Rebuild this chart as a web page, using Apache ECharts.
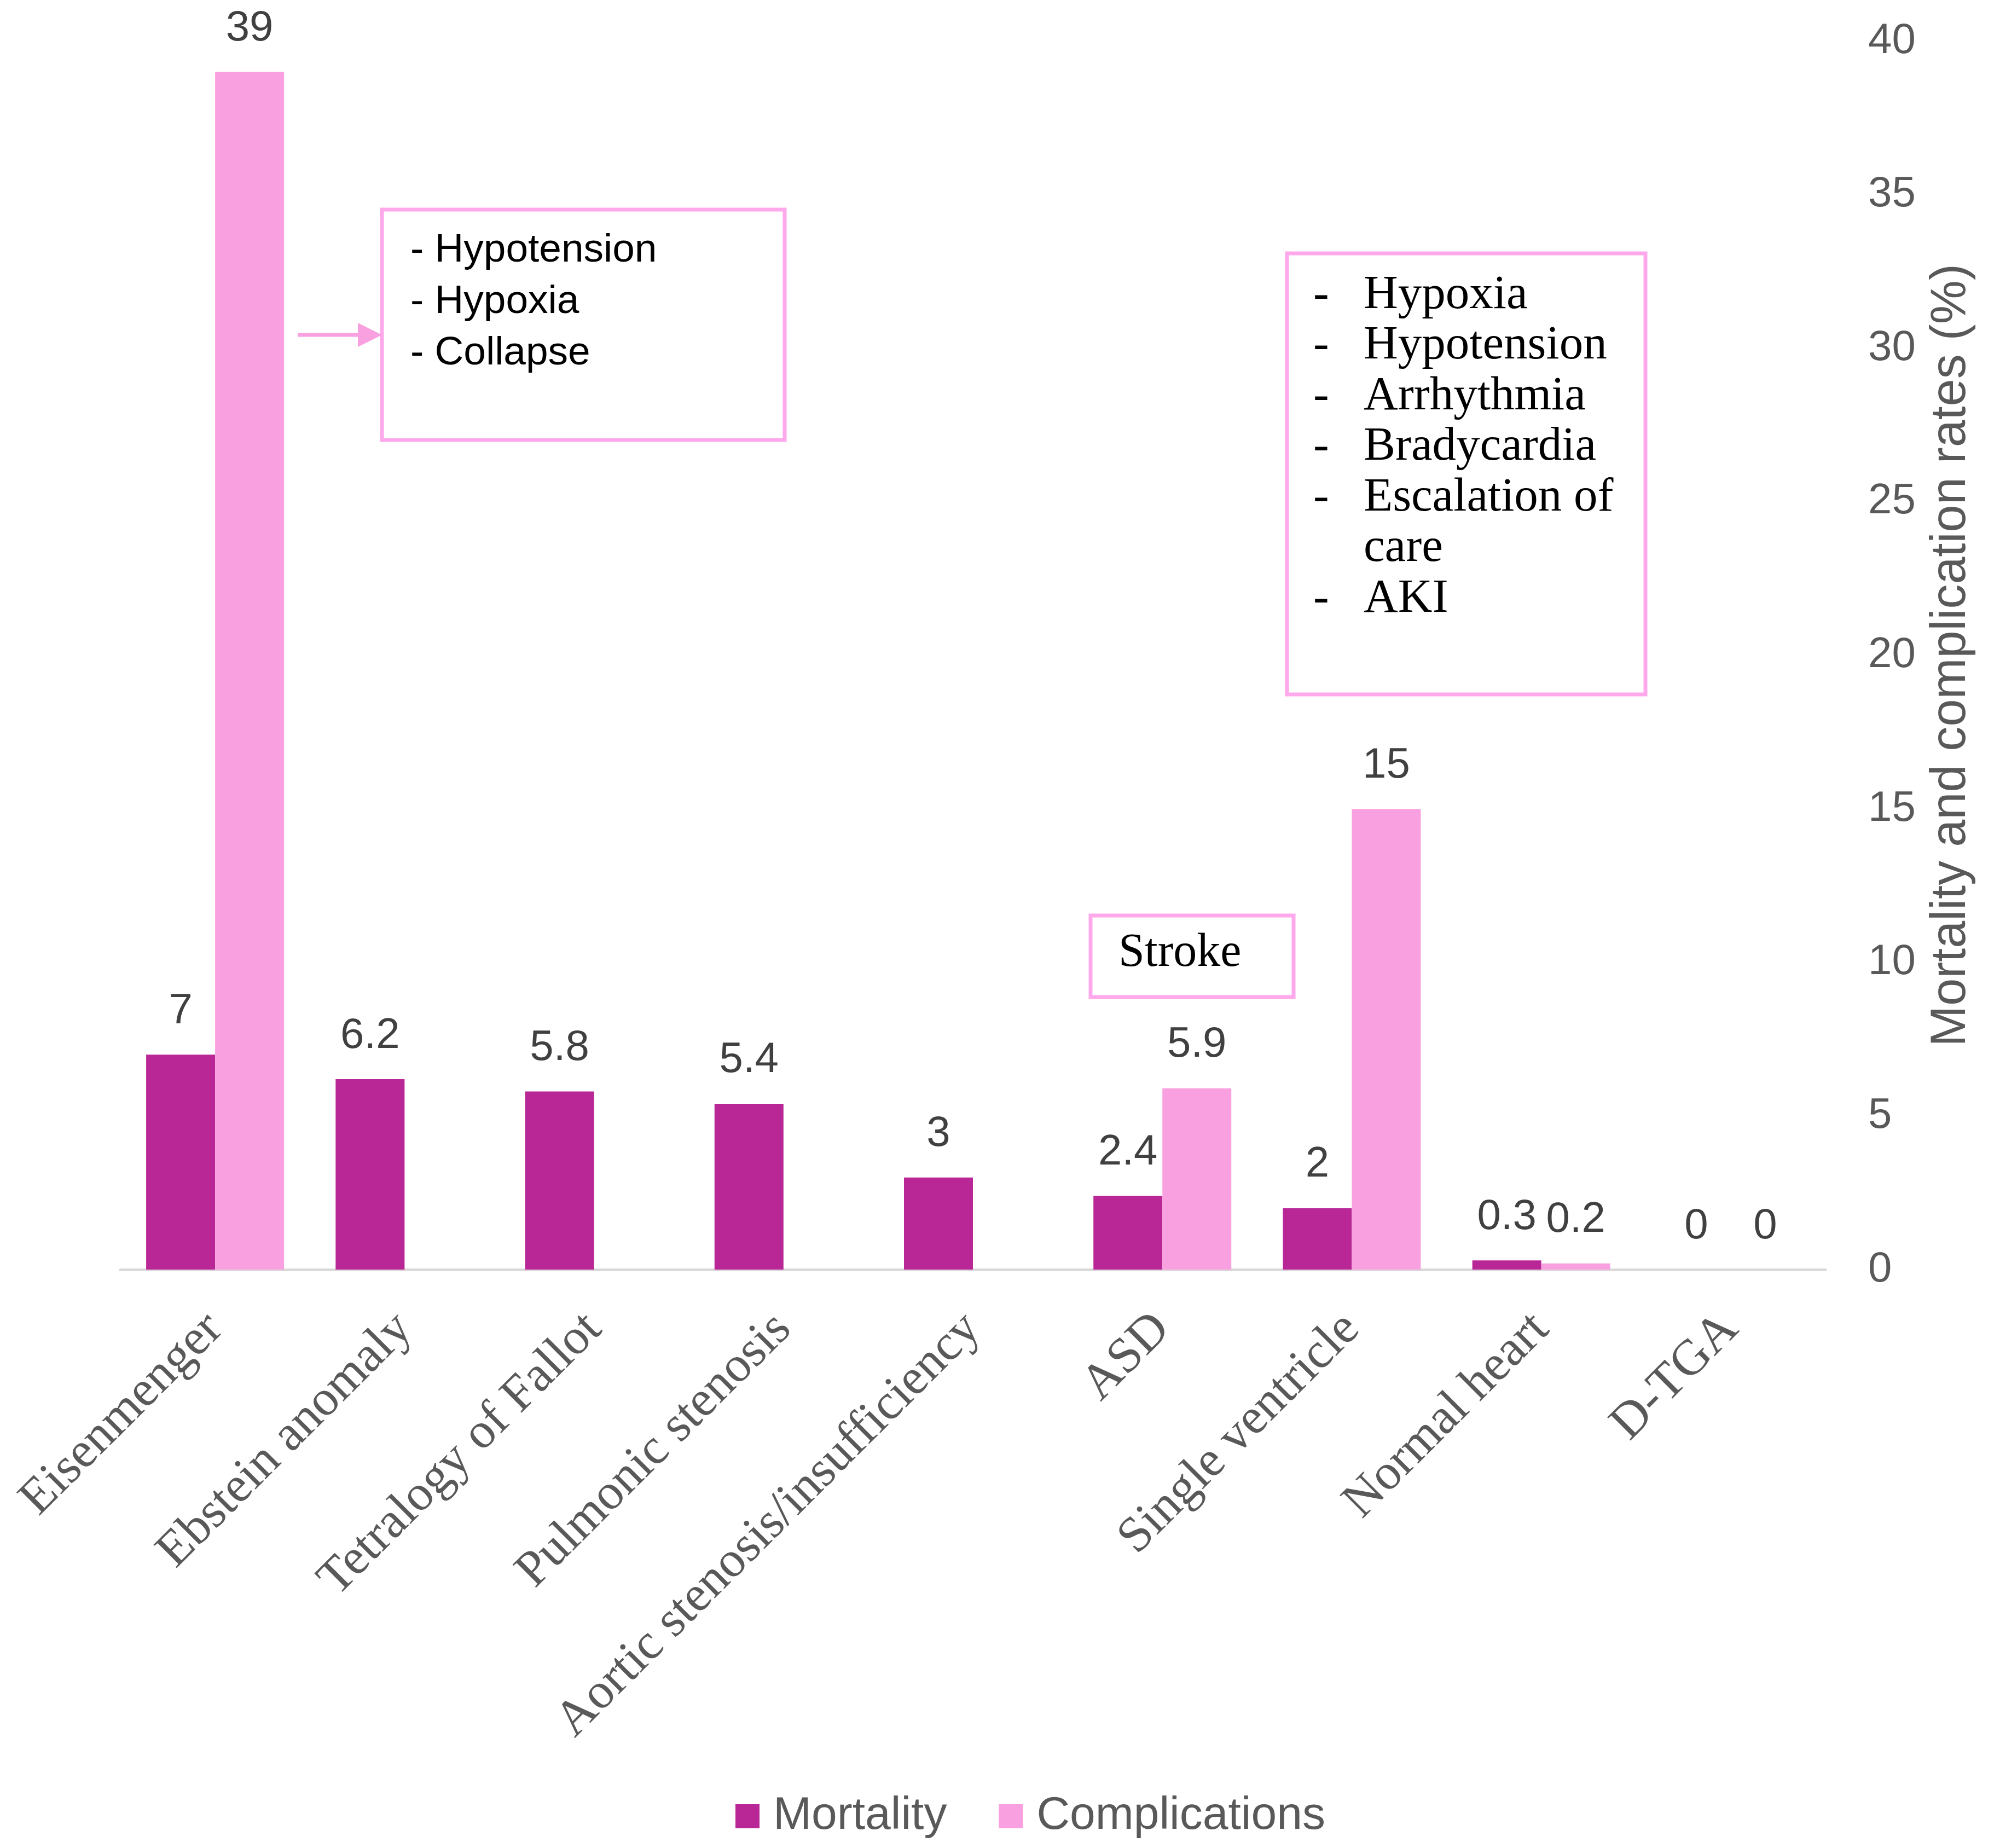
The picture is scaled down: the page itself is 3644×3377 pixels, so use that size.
<!DOCTYPE html>
<html>
<head>
<meta charset="utf-8">
<script src="https://cdn.jsdelivr.net/npm/echarts@6/dist/echarts.min.js"></script>
<style>
html,body{margin:0;padding:0;background:#fff;}
#chart{width:3644px;height:3377px;}
</style>
</head>
<body>
<div id="chart"></div>
<script>
const categories = ['Eisenmenger','Ebstein anomaly','Tetralogy of Fallot','Pulmonic stenosis','Aortic stenosis/insufficiency','ASD','Single ventricle','Normal heart','D-TGA'];
const mortality = [7, 6.2, 5.8, 5.4, 3, 2.4, 2, 0.3, 0];
const complications = [39, null, null, null, null, 5.9, 15, 0.2, 0];
const seriesNames = ['Mortality', 'Complications'];
const axisTitle = 'Mortality and complication rates (%)';
const leftNotes = ['- Hypotension', '- Hypoxia', '- Collapse'];
const rightNotes = [['-', 'Hypoxia'], ['-', 'Hypotension'], ['-', 'Arrhythmia'], ['-', 'Bradycardia'], ['-', 'Escalation of'], ['', 'care'], ['-', 'AKI']];
const strokeNote = 'Stroke';

const MORT = '#B92696';
const COMP = '#F9A0E0';
const BOX = '#FFA8EC';

const chart = echarts.init(document.getElementById('chart'), null, {renderer: 'canvas', devicePixelRatio: 1});

const graphics = [];
// left box
graphics.push({type: 'rect', shape: {x: 698, y: 383, width: 736, height: 421}, style: {fill: 'none', stroke: BOX, lineWidth: 7}});
leftNotes.forEach((t, i) => {
  graphics.push({type: 'text', x: 750, y: 458 + i * 94, style: {text: t, fontSize: 73, fontFamily: 'Liberation Sans', fill: '#000', verticalAlign: 'middle'}});
});
// arrow
graphics.push({type: 'line', shape: {x1: 544, y1: 612, x2: 664, y2: 612}, style: {stroke: COMP, lineWidth: 7}});
graphics.push({type: 'polygon', shape: {points: [[654, 590], [698, 612], [654, 634]]}, style: {fill: COMP}});
// stroke box
graphics.push({type: 'rect', shape: {x: 1993, y: 1673, width: 371, height: 149}, style: {fill: 'none', stroke: BOX, lineWidth: 7}});
graphics.push({type: 'text', x: 2044, y: 1742, style: {text: strokeNote, fontSize: 86, fontFamily: 'Liberation Serif', fill: '#000', verticalAlign: 'middle'}});
// right box
graphics.push({type: 'rect', shape: {x: 2352, y: 463, width: 655, height: 806}, style: {fill: 'none', stroke: BOX, lineWidth: 7}});
rightNotes.forEach((r, i) => {
  const y = 540 + i * 92.5;
  if (r[0]) graphics.push({type: 'text', x: 2400, y: y, style: {text: r[0], fontSize: 86, fontFamily: 'Liberation Serif', fill: '#000', verticalAlign: 'middle'}});
  graphics.push({type: 'text', x: 2492, y: y, style: {text: r[1], fontSize: 87, fontFamily: 'Liberation Serif', fill: '#000', verticalAlign: 'middle'}});
});

const labelStyle = {show: true, position: 'top', distance: 40, fontSize: 78, fontFamily: 'Liberation Sans', color: '#404040'};

chart.setOption({
  backgroundColor: '#fff',
  animation: false,
  grid: {left: 220, right: 308, top: 75, bottom: 1057, containLabel: false},
  legend: {
    data: seriesNames, left: 1339, top: 3272, icon: 'rect', itemWidth: 44, itemHeight: 44, itemGap: 95,
    textStyle: {fontSize: 84, fontFamily: 'Liberation Sans', color: '#595959', padding: [0, 0, 0, 20]}
  },
  xAxis: {
    type: 'category', data: categories,
    axisLine: {show: true, lineStyle: {color: '#D9D9D9', width: 5}},
    axisTick: {show: false},
    axisLabel: {rotate: 45, interval: 0, margin: 95, fontSize: 92, fontFamily: 'Liberation Serif', color: '#595959'}
  },
  yAxis: {
    type: 'value', position: 'right', min: 0, max: 40, interval: 5,
    axisLine: {show: false}, axisTick: {show: false}, splitLine: {show: false},
    axisLabel: {margin: 78, fontSize: 78, fontFamily: 'Liberation Sans', color: '#595959'},
    name: axisTitle, nameLocation: 'middle', nameRotate: 90, nameGap: 185,
    nameTextStyle: {fontSize: 90, fontFamily: 'Liberation Sans', color: '#595959'}
  },
  series: [
    {name: seriesNames[0], type: 'bar', data: mortality, barWidth: 126, barGap: '0%', itemStyle: {color: MORT}, label: labelStyle},
    {name: seriesNames[1], type: 'bar', data: complications, barWidth: 126, barGap: '0%', itemStyle: {color: COMP}, label: labelStyle}
  ],
  graphic: graphics
});
</script>
</body>
</html>
